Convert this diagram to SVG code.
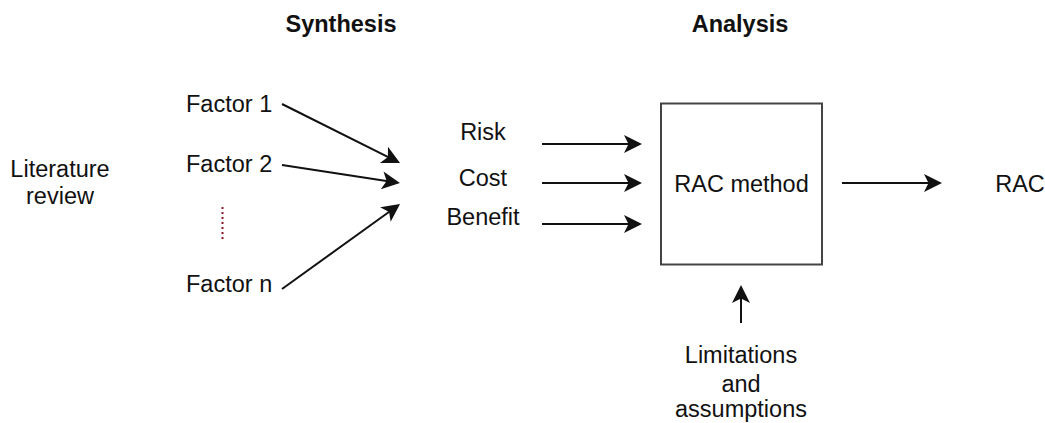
<svg xmlns="http://www.w3.org/2000/svg" width="1045" height="423" viewBox="0 0 1045 423">
  <style>
    text { font-family: "Liberation Sans", Arial, sans-serif; font-size: 23.5px; fill: #111; }
    .head { font-weight: bold; }
    .mid { text-anchor: middle; }
    .edge { fill: none; stroke: #111; stroke-width: 2; marker-end: url(#arrow); }
    .box { fill: #fff; stroke: #444; stroke-width: 2; }
  </style>
  <defs>
    <!-- classic notched arrowhead; reference point sits 12px behind the tip -->
    <marker id="arrow" markerUnits="userSpaceOnUse" markerWidth="20" markerHeight="19" refX="6" refY="9" orient="auto" overflow="visible">
      <path d="M18,9 L0,0 L4.5,9 L0,18 Z" fill="#111"/>
    </marker>
  </defs>
  <rect width="1045" height="423" fill="#fff"/>

  <!-- column headings -->
  <g id="heading-synthesis"><text class="head mid" x="341" y="32">Synthesis</text></g>
  <g id="heading-analysis"><text class="head mid" x="740" y="32">Analysis</text></g>

  <g id="literature-review">
    <text class="mid" x="60" y="177">Literature</text>
    <text class="mid" x="60" y="204">review</text>
  </g>

  <g id="factor-1"><text x="186" y="112">Factor 1</text></g>
  <g id="factor-2"><text x="186" y="172">Factor 2</text></g>
  <g id="factor-ellipsis"><line x1="222.5" y1="207" x2="222.5" y2="239" stroke="#8b1a2a" stroke-width="2" stroke-dasharray="2 3"/></g>
  <g id="factor-n"><text x="186" y="292">Factor n</text></g>

  <g id="risk"><text class="mid" x="483" y="140">Risk</text></g>
  <g id="cost"><text class="mid" x="483" y="186">Cost</text></g>
  <g id="benefit"><text class="mid" x="483" y="225">Benefit</text></g>

  <g id="rac-method">
    <rect class="box" x="661" y="103.5" width="161" height="161"/>
    <text class="mid" x="741.5" y="192">RAC method</text>
  </g>

  <g id="rac"><text class="mid" x="1020" y="192">RAC</text></g>

  <g id="limitations">
    <text class="mid" x="741" y="363">Limitations</text>
    <text class="mid" x="741" y="392">and</text>
    <text class="mid" x="741" y="417">assumptions</text>
  </g>

  <!-- connectors -->
  <g id="connectors">
    <path class="edge" d="M282,104 L389.3,157.6"/>
    <path class="edge" d="M282,165 L388.1,181.2"/>
    <path class="edge" d="M282,289 L390.3,211"/>
    <path class="edge" d="M542,144 L630,144"/>
    <path class="edge" d="M542,183 L630,183"/>
    <path class="edge" d="M542,224 L630,224"/>
    <path class="edge" d="M842,183 L930,183"/>
    <path class="edge" d="M741,323 L741,297"/>
  </g>
</svg>
